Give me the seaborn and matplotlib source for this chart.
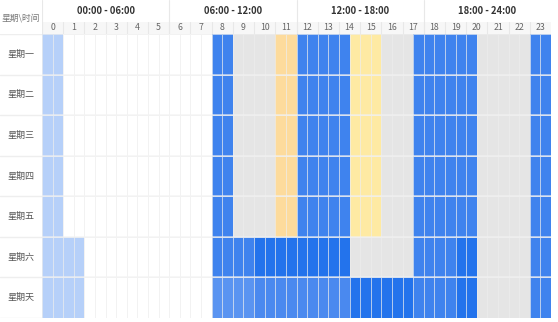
import matplotlib
matplotlib.use("Agg")
import matplotlib.pyplot as plt
import numpy as np
import seaborn as sns
from matplotlib.colors import ListedColormap

# ---- data: one code per half hour (48 cells per day) ----
# 0 free, 1 light blue, 2 soft blue, 3 blue, 4 deep blue, 5 grey, 6 orange, 7 yellow, 8 mid blue
days = ["星期一", "星期二", "星期三", "星期四", "星期五", "星期六", "星期天"]
hours = [str(h) for h in range(24)]
groups = ["00:00 - 06:00", "06:00 - 12:00", "12:00 - 18:00", "18:00 - 24:00"]
corner_label = "星期\\时间"

mon = [1, 1, 0, 0, 0, 0, 0, 0, 0, 0, 0, 0, 0, 0, 0, 0, 3, 3, 5, 5, 5, 5, 6, 6,
       3, 3, 3, 3, 3, 7, 7, 7, 5, 5, 5, 3, 3, 3, 3, 3, 3, 5, 5, 5, 5, 5, 3, 3]
tue = [1, 1, 0, 0, 0, 0, 0, 0, 0, 0, 0, 0, 0, 0, 0, 0, 3, 3, 5, 5, 5, 5, 6, 6,
       3, 3, 3, 3, 3, 7, 7, 7, 5, 5, 5, 3, 3, 3, 3, 3, 3, 5, 5, 5, 5, 5, 3, 3]
wed = [1, 1, 0, 0, 0, 0, 0, 0, 0, 0, 0, 0, 0, 0, 0, 0, 3, 3, 5, 5, 5, 5, 6, 6,
       3, 3, 3, 3, 3, 7, 7, 7, 5, 5, 5, 3, 3, 3, 3, 3, 3, 5, 5, 5, 5, 5, 3, 3]
thu = [1, 1, 0, 0, 0, 0, 0, 0, 0, 0, 0, 0, 0, 0, 0, 0, 3, 3, 5, 5, 5, 5, 6, 6,
       3, 3, 3, 3, 3, 7, 7, 7, 5, 5, 5, 3, 3, 3, 3, 3, 3, 5, 5, 5, 5, 5, 3, 3]
fri = [1, 1, 0, 0, 0, 0, 0, 0, 0, 0, 0, 0, 0, 0, 0, 0, 3, 3, 5, 5, 5, 5, 6, 6,
       3, 3, 3, 3, 3, 7, 7, 7, 5, 5, 5, 3, 3, 3, 3, 3, 3, 5, 5, 5, 5, 5, 3, 3]
sat = [1, 1, 1, 1, 0, 0, 0, 0, 0, 0, 0, 0, 0, 0, 0, 0, 3, 3, 3, 3, 4, 4, 4, 4,
       4, 4, 4, 4, 4, 5, 5, 5, 5, 5, 5, 3, 3, 3, 3, 4, 4, 5, 5, 5, 5, 5, 3, 3]
sun = [1, 1, 1, 1, 0, 0, 0, 0, 0, 0, 0, 0, 0, 0, 0, 0, 2, 2, 2, 2, 8, 8, 8, 8,
       8, 8, 8, 8, 8, 4, 4, 4, 4, 4, 4, 3, 3, 3, 3, 4, 4, 5, 5, 5, 5, 5, 3, 3]

palette = ["#ffffff", "#b6d0f9", "#5a94f1", "#3f83ee", "#2373ec",
           "#e5e5e5", "#fddb9c", "#feeaa3", "#4a89ef"]

grid = np.array([mon, tue, wed, thu, fri, sat, sun])

# ---- figure ----
sns.set_style("white")
plt.rcParams["font.family"] = ["Noto Sans CJK SC", "DejaVu Sans"]

W, H = 558, 322
fig = plt.figure(figsize=(W / 100, H / 100), dpi=100)

left, right, top, bottom = 42, 551, 34, 318
ax = fig.add_axes([left / W, (H - bottom) / H, (right - left) / W, (bottom - top) / H])
sns.heatmap(grid, cmap=ListedColormap(palette), vmin=-0.5, vmax=len(palette) - 0.5,
            cbar=False, linewidths=0.7, linecolor=(0.93, 0.93, 0.93, 0.7),
            xticklabels=False, yticklabels=days, ax=ax)
ax.set_yticklabels(days, rotation=0, ha="center", fontsize=6.5, color="#555555")
ax.tick_params(axis="y", length=0, pad=15)
for s in ax.spines.values():
    s.set_visible(False)
# stronger row separators
for i in range(1, len(days)):
    ax.axhline(i, color=(0.95, 0.95, 0.95, 0.7), lw=1.2)

# row separators in the label column
lab = fig.add_axes([0, (H - bottom) / H, left / W, (bottom - top) / H])
lab.set_xlim(0, 1)
lab.set_ylim(len(days), 0)
lab.axis("off")
for i in range(len(days) + 1):
    lab.axhline(i, color="#eeeeee", lw=1)

# header
hax = fig.add_axes([left / W, (H - top) / H, (right - left) / W, top / H])
hax.set_xlim(0, grid.shape[1])
hax.set_ylim(0, top)
hax.axis("off")
hax.axhspan(0, 12, color="#f7f7f7", lw=0)
for i, h in enumerate(hours):
    hax.text(2 * i + 1, 6, h, ha="center", va="center", fontsize=6.3, color="#666666")
    hax.plot([2 * i, 2 * i], [0, 12], color="#e8e8e8", lw=0.8)
for i, g in enumerate(groups):
    hax.text(12 * i + 6, 23, g, ha="center", va="center", fontsize=6.8,
             fontweight="bold", color="#333333")
    hax.plot([12 * i, 12 * i], [0, top], color="#e8e8e8", lw=0.8)

fig.text(21 / W, (H - 18) / H, corner_label, ha="center", va="center",
         fontsize=6.3, color="#777777")

fig.savefig("out.png", dpi=100)
